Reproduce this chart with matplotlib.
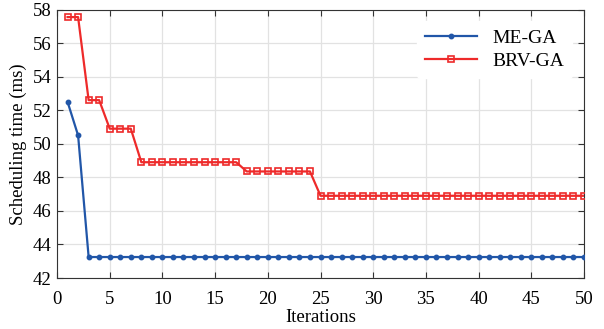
import matplotlib.pyplot as plt
import numpy as np

plt.rcParams['font.family'] = ['Liberation Serif', 'DejaVu Serif']

iterations = np.arange(1, 51)
me_ga = [52.5, 50.5] + [43.25] * 48
brv_ga = ([57.55, 57.55, 52.6, 52.6, 50.9, 50.9, 50.9]
          + [48.9] * 10 + [48.35] * 7 + [46.9] * 26)

fig = plt.figure(figsize=(6.04, 3.29), dpi=100)
ax = fig.add_axes([0.0944, 0.155, 0.8725, 0.816])

ax.plot(iterations, me_ga, color='#2156a8', lw=1.6, marker='o', ms=3.2,
        label='ME-GA', zorder=3)
ax.plot(iterations, brv_ga, color='#ee2a2a', lw=1.6, marker='s', ms=4.6,
        mfc='none', mew=1.2, label='BRV-GA', zorder=3)

ax.set_xlim(0, 50)
ax.set_ylim(42, 58)
ax.set_xticks(range(0, 51, 5))
ax.set_yticks(range(42, 59, 2))
ax.grid(True, color='#e2e2e2', lw=0.9)
ax.set_axisbelow(True)
ax.tick_params(direction='in', top=True, right=True, labelsize=13.5,
               length=4, color='#333333')
ax.tick_params(axis='x', pad=9)
ax.tick_params(axis='y', pad=4)
for s in ax.spines.values():
    s.set_color('#333333')
    s.set_linewidth(0.8)

ax.set_xlabel('Iterations', fontsize=13.5, labelpad=1)
ax.set_ylabel('Scheduling time (ms)', fontsize=13.5, labelpad=4)

leg = ax.legend(loc='upper right', fontsize=14, frameon=True,
                handlelength=2.7, borderaxespad=0.6, labelspacing=0.3)
leg.get_frame().set_facecolor('white')
leg.get_frame().set_edgecolor('white')
leg.get_frame().set_alpha(1)

fig.savefig('out.png', dpi=100)
